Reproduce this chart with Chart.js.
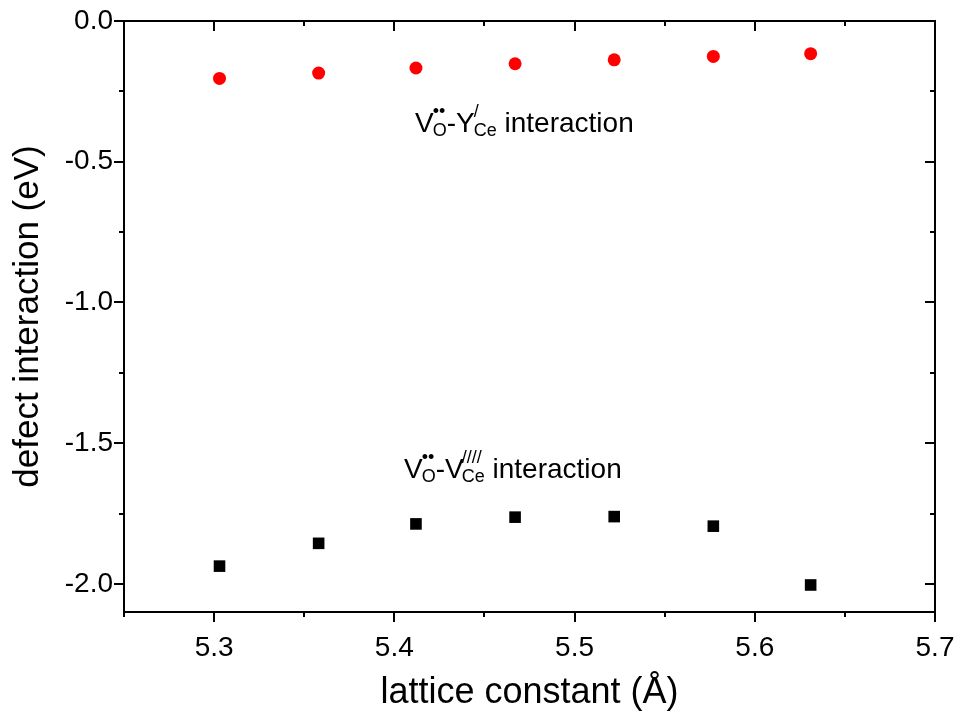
<!DOCTYPE html>
<html lang="en">
<head>
  <meta charset="UTF-8" />
  <title>Defect interaction vs lattice constant</title>
  <script src="https://cdn.jsdelivr.net/npm/chart.js"></script>
  <style>
    html, body {
      margin: 0;
      padding: 0;
      background: #fff;
    }
    #wrap {
      width: 959px;
      height: 717px;
    }
  </style>
</head>
<body>
  <div id="wrap"><canvas id="chart" width="959" height="717"></canvas></div>
  <script>
  // data
  const latticeConst = [5.303, 5.358, 5.412, 5.467, 5.522, 5.577, 5.631];
  const yCeInteraction = [-0.204, -0.185, -0.167, -0.152, -0.138, -0.126, -0.116];
  const vCeInteraction = [-1.937, -1.856, -1.787, -1.763, -1.761, -1.795, -2.004];

  // labelled ticks
  const xTickLabels = [5.3, 5.4, 5.5, 5.6, 5.7];
  const yTickLabels = [0.0, -0.5, -1.0, -1.5, -2.0];

  const FONT = "'Liberation Sans', Arial, sans-serif";

  const isLabelled = (list, v) => list.some(t => Math.abs(t - v) < 1e-6);

  // tick positions: labelled ones plus the minor ones halfway between
  const withMinor = (list, lo, hi) => {
    const step = Math.abs(list[1] - list[0]) / 2;
    const out = [];
    for (let v = lo; v <= hi + 1e-9; v += step) out.push({ value: +v.toFixed(4) });
    return out;
  };

  // axes frame + major/minor ticks (outward on bottom/left, inward on top/right)
  const framePlugin = {
    id: 'frame',
    afterDraw(chart) {
      const { ctx, chartArea: a, scales } = chart;
      ctx.save();
      ctx.strokeStyle = '#000';
      ctx.lineWidth = 2;
      ctx.strokeRect(a.left, a.top, a.right - a.left, a.bottom - a.top);
      ctx.beginPath();
      scales.x.ticks.forEach(t => {
        const px = Math.round(scales.x.getPixelForValue(t.value));
        const len = isLabelled(xTickLabels, t.value) ? 10 : 5;
        ctx.moveTo(px, a.bottom); ctx.lineTo(px, a.bottom + len);
        ctx.moveTo(px, a.top); ctx.lineTo(px, a.top + len);
      });
      scales.y.ticks.forEach(t => {
        const py = Math.round(scales.y.getPixelForValue(t.value));
        const len = isLabelled(yTickLabels, t.value) ? 10 : 5;
        ctx.moveTo(a.left, py); ctx.lineTo(a.left - len, py);
        ctx.moveTo(a.right, py); ctx.lineTo(a.right - len, py);
      });
      ctx.stroke();
      ctx.restore();
    }
  };

  // series labels with sub/superscripts, anchored in data coordinates
  const notes = [
    { x: 5.4115, y: -0.395, parts: [
      { t: 'V' }, { sup: '\u2022\u2022', sub: 'O', kern: -1 }, { t: '-Y' }, { sup: '/', sub: 'Ce', kern: -1 }, { t: ' interaction' }
    ]},
    { x: 5.4054, y: -1.625, parts: [
      { t: 'V' }, { sup: '\u2022\u2022', sub: 'O', kern: -1 }, { t: '-V' }, { sup: '////', sub: 'Ce', kern: -2 }, { t: ' interaction' }
    ]}
  ];

  const notePlugin = {
    id: 'notes',
    afterDraw(chart) {
      const { ctx, scales } = chart;
      ctx.save();
      ctx.fillStyle = '#000';
      ctx.textBaseline = 'alphabetic';
      ctx.textAlign = 'left';
      notes.forEach(n => {
        let x = scales.x.getPixelForValue(n.x);
        const base = scales.y.getPixelForValue(n.y);
        n.parts.forEach(p => {
          if (p.t) {
            ctx.font = `28px ${FONT}`;
            ctx.fillText(p.t, x, base);
            x += ctx.measureText(p.t).width;
          } else {
            x += p.kern || 0;
            ctx.font = `18px ${FONT}`;
            const wSup = ctx.measureText(p.sup).width;
            const wSub = ctx.measureText(p.sub).width;
            ctx.fillText(p.sup, x, base - 15);
            ctx.fillText(p.sub, x, base + 4);
            x += Math.max(wSup, wSub);
          }
        });
      });
      ctx.restore();
    }
  };

  const ctx = document.getElementById('chart').getContext('2d');
  const chart = new Chart(ctx, {
    type: 'scatter',
    data: {
      datasets: [
        {
          label: 'VO-YCe',
          data: latticeConst.map((x, i) => ({ x, y: yCeInteraction[i] })),
          pointStyle: 'circle',
          pointRadius: 6.5,
          backgroundColor: '#ff0000',
          borderColor: '#ff0000',
          borderWidth: 0
        },
        {
          label: 'VO-VCe',
          data: latticeConst.map((x, i) => ({ x, y: vCeInteraction[i] })),
          pointStyle: 'rect',
          pointRadius: 8.2,
          backgroundColor: '#000',
          borderColor: '#000',
          borderWidth: 0
        }
      ]
    },
    options: {
      responsive: false,
      animation: false,
      layout: {
        padding: { top: 21, right: 24, left: 0, bottom: 0 }
      },
      plugins: {
        legend: { display: false },
        tooltip: { enabled: false }
      },
      scales: {
        x: {
          type: 'linear',
          min: 5.25,
          max: 5.7,
          grid: { display: false, drawTicks: false },
          border: { display: false },
          afterBuildTicks(scale) { scale.ticks = withMinor(xTickLabels, 5.25, 5.7); },
          ticks: {
            autoSkip: false,
            maxRotation: 0,
            padding: 19,
            color: '#000',
            font: { family: FONT, size: 28 },
            callback: v => isLabelled(xTickLabels, v) ? v.toFixed(1) : ''
          },
          title: {
            display: true,
            text: 'lattice constant (\u00C5)',
            color: '#000',
            font: { family: FONT, size: 36 },
            padding: { top: 0, bottom: 2 }
          },
          afterFit(scale) {
            scale.height = 105;
            scale.paddingLeft = 0;
            scale.paddingRight = 0;
          }
        },
        y: {
          type: 'linear',
          min: -2.1,
          max: 0,
          grid: { display: false, drawTicks: false },
          border: { display: false },
          afterBuildTicks(scale) { scale.ticks = withMinor(yTickLabels.slice().reverse(), -2.0, 0); },
          ticks: {
            autoSkip: false,
            padding: 11,
            color: '#000',
            font: { family: FONT, size: 28 },
            callback: v => isLabelled(yTickLabels, v) ? v.toFixed(1) : ''
          },
          title: {
            display: true,
            text: 'defect interaction (eV)',
            color: '#000',
            font: { family: FONT, size: 35 },
            padding: { top: 7, bottom: 0 }
          },
          afterFit(scale) {
            scale.width = 124;
            scale.paddingTop = 0;
            scale.paddingBottom = 0;
          }
        }
      }
    },
    plugins: [framePlugin, notePlugin]
  });
  </script>
</body>
</html>
